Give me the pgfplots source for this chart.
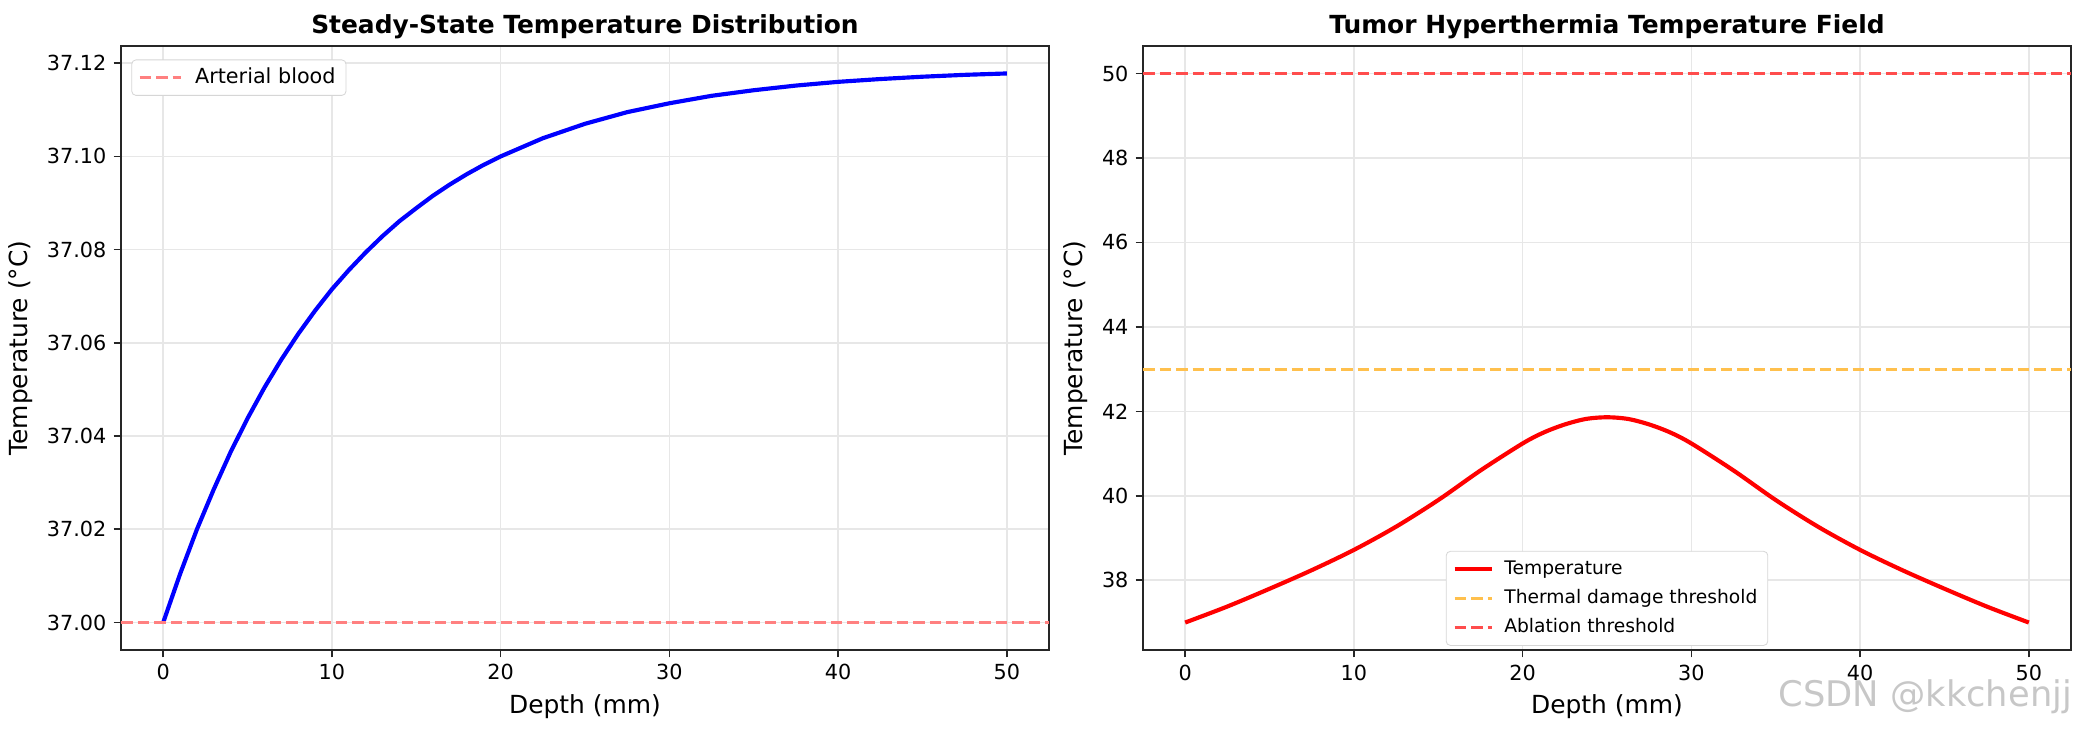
\documentclass[border=0pt]{standalone}
\usepackage{fontspec}
\setmainfont{DejaVu Sans}
\usepackage{pgfplots}
\pgfplotsset{compat=1.18}

\definecolor{gridc}{RGB}{231,231,231}
\definecolor{spine}{RGB}{38,38,38}
\definecolor{artc}{RGB}{255,128,128}
\definecolor{ablc}{RGB}{255,77,77}
\definecolor{dmgc}{RGB}{255,192,77}
\definecolor{legc}{RGB}{214,214,214}

% 1 px of the reference = 0.48bp
\pgfplotsset{
  mpl/.style={
    scale only axis, width=445.44bp, height=289.92bp,
    axis line style={spine, line width=0.8pt},
    tick align=outside, major tick length=3.5pt, tick pos=left,
    every tick/.style={spine, line width=0.8pt},
    grid=major, major grid style={gridc, line width=0.8pt},
    ticklabel style={font=\fontsize{10}{12}\selectfont},
    /pgf/number format/assume math mode=true,
    label style={font=\fontsize{12}{14}\selectfont},
    title style={font=\bfseries\fontsize{12}{14}\selectfont, yshift=-6bp},
    xmin=-2.5, xmax=52.5, xtick={0,10,20,30,40,50},
    xlabel={Depth (mm)}, ylabel={Temperature (°C)},
    legend cell align=left,
  },
  dashl/.style={line width=1.5pt, dash pattern=on 5.55pt off 2.4pt},
}

\begin{document}
\begin{tikzpicture}
\useasboundingbox (-58.08bp,-39.36bp) rectangle (942.72bp,312bp);

% left panel
\begin{axis}[mpl, at={(0,0)}, anchor=south west,
  title={Steady-State Temperature Distribution},
  ymin=36.99411, ymax=37.12369,
  ytick={37.00,37.02,37.04,37.06,37.08,37.10,37.12},
  yticklabel style={/pgf/number format/.cd, fixed, fixed zerofill, precision=2},
  legend style={at={(0,1)}, anchor=north west, xshift=5pt, yshift=-6.5pt,
    draw=legc, rounded corners=2pt, font=\fontsize{10}{12}\selectfont,
    inner xsep=3pt, inner ysep=2pt},
  legend image code/.code={\draw[#1] (0pt,0pt) -- (20pt,0pt); \path (24pt,0pt);},
]
\addplot[blue, line width=2pt, line join=round, forget plot] coordinates {
 (0,37.0000) (1,37.0104) (2,37.0200) (3,37.0286) (4,37.0366) (5,37.0438)
 (6,37.0504) (7,37.0564) (8,37.0619) (9,37.0669) (10,37.0715) (11,37.0756)
 (12,37.0794) (13,37.0829) (14,37.0861) (15,37.0889) (16,37.0916)
 (17,37.0940) (18,37.0962) (19,37.0982) (20,37.1000) (22.5,37.1039)
 (25,37.1070) (27.5,37.1095) (30,37.1114) (32.5,37.1130) (35,37.1142)
 (37.5,37.1152) (40,37.1160) (42.5,37.1166) (45,37.1171) (47.5,37.1175)
 (50,37.1178)};
\addplot[artc, dashl] coordinates {(-2.5,37) (52.5,37)};
\addlegendentry{Arterial blood}
\end{axis}

% right panel
\begin{axis}[mpl, at={(490.56bp,0)}, anchor=south west,
  title={Tumor Hyperthermia Temperature Field},
  ymin=36.35, ymax=50.65,
  ytick={38,40,42,44,46,48,50},
  legend style={at={(0.5,0)}, anchor=south, yshift=2pt,
    draw=legc, rounded corners=2pt, font=\fontsize{9}{10.8}\selectfont,
    inner xsep=3pt, inner ysep=2.5pt, row sep=1.8pt},
  legend image code/.code={\draw[#1] (0pt,0pt) -- (18pt,0pt); \path (21pt,0pt);},
]
\addplot[red, line width=2pt, smooth] coordinates {
 (0,37.00) (2.5,37.38) (5,37.80) (7.5,38.24) (10,38.72) (12.5,39.27)
 (15,39.90) (17.5,40.60) (20,41.24) (21.25,41.50) (22.5,41.69) (23.75,41.82)
 (25,41.86) (26.25,41.82) (27.5,41.69) (28.75,41.50) (30,41.24) (32.5,40.60)
 (35,39.90) (37.5,39.27) (40,38.72) (42.5,38.24) (45,37.80) (47.5,37.38)
 (50,37.00)};
\addlegendentry{Temperature}
\addplot[dmgc, dashl] coordinates {(-2.5,43) (52.5,43)};
\addlegendentry{Thermal damage threshold}
\addplot[ablc, dashl] coordinates {(-2.5,50) (52.5,50)};
\addlegendentry{Ablation threshold}
\end{axis}

\node[anchor=east, text=black!22, font=\fontsize{17}{20}\selectfont] at (940bp,-22.6bp) {CSDN @kkchenjj};
\end{tikzpicture}
\end{document}
